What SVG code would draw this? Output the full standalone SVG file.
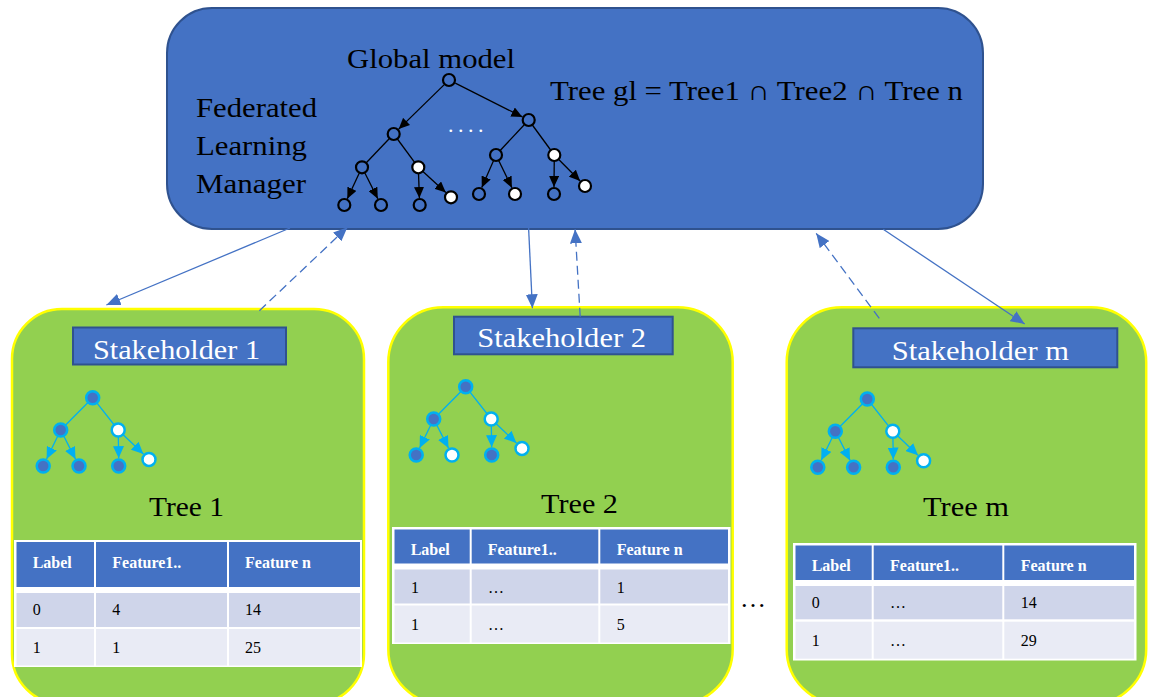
<svg xmlns="http://www.w3.org/2000/svg" width="1149" height="697" viewBox="0 0 1149 697">
  <style>
    .serif { font-family: "Liberation Serif", "Times New Roman", "DejaVu Serif", serif; }
    .manager { fill: #4472C4; stroke: #2F528F; stroke-width: 2; }
    .stake { fill: #92D050; stroke: #FFFF00; stroke-width: 2.5; }
    .tag { fill: #4472C4; stroke: #2F528F; stroke-width: 2; }
    .tagtxt { fill: #ffffff; font-size: 28px; }
    .big { fill: #000000; font-size: 28px; }
    .gedge { stroke: #000000; stroke-width: 1.3; fill: none; }
    .gnode { stroke: #000000; stroke-width: 2.2; }
    .sedge { stroke: #00B0F0; stroke-width: 1.3; fill: none; }
    .snode { stroke: #00B0F0; stroke-width: 2.5; }
    .fb { fill: #4472C4; }
    .fw { fill: #ffffff; }
    .tbg { fill: #ffffff; }
    .th { fill: #4472C4; }
    .r1 { fill: #CFD5EA; }
    .r2 { fill: #E9EBF5; }
    .hd { fill: #ffffff; font-size: 16px; font-weight: bold; }
    .cell { fill: #000000; font-size: 16px; }
    .link { stroke: #4472C4; stroke-width: 1.3; fill: none; }
    .dash { stroke-dasharray: 9 5; }
  </style>
  <defs>
    <marker id="ahBlack" markerUnits="userSpaceOnUse" markerWidth="11" markerHeight="10" refX="11" refY="5" orient="auto">
      <path d="M0,0 L11,5 L0,10 z" fill="#000000"/>
    </marker>
    <marker id="ahCyan" markerUnits="userSpaceOnUse" markerWidth="12" markerHeight="11" refX="12" refY="5.5" orient="auto">
      <path d="M0,0 L12,5.5 L0,11 z" fill="#00B0F0"/>
    </marker>
    <marker id="ahBlue" markerUnits="userSpaceOnUse" markerWidth="14" markerHeight="12" refX="14" refY="6" orient="auto">
      <path d="M0,0 L14,6 L0,12 z" fill="#4472C4"/>
    </marker>
  </defs>

  <!-- Federated learning manager -->
  <g id="manager">
    <rect class="manager" x="167" y="8" width="816" height="221" rx="45" ry="45"/>
    <text class="serif big" x="347" y="68" textLength="168" lengthAdjust="spacingAndGlyphs">Global model</text>
    <text class="serif big" x="196" y="117" textLength="121" lengthAdjust="spacingAndGlyphs">Federated</text>
    <text class="serif big" x="196" y="155" textLength="111" lengthAdjust="spacingAndGlyphs">Learning</text>
    <text class="serif big" x="196" y="193" textLength="110" lengthAdjust="spacingAndGlyphs">Manager</text>
    <text class="serif big" x="550" y="100" textLength="413" lengthAdjust="spacingAndGlyphs">Tree gl = Tree1 ∩ Tree2 ∩ Tree n</text>
    <text class="serif" x="448" y="132" fill="#ffffff" font-size="22" letter-spacing="4.5">....</text>
    <!-- global tree edges -->
    <g class="gedge">
      <line x1="444" y1="84.9" x2="398.7" y2="129.1" marker-end="url(#ahBlack)"/>
      <line x1="455.3" y1="83.1" x2="522.4" y2="116.9" marker-end="url(#ahBlack)"/>
      <line x1="393.7" y1="134" x2="362" y2="167.3"/>
      <line x1="393.7" y1="134" x2="418.3" y2="167.3"/>
      <line x1="528.7" y1="120" x2="496" y2="155"/>
      <line x1="528.7" y1="120" x2="554.3" y2="155"/>
      <line x1="362" y1="167.3" x2="347.3" y2="198.7" marker-end="url(#ahBlack)"/>
      <line x1="362" y1="167.3" x2="377.8" y2="198.7" marker-end="url(#ahBlack)"/>
      <line x1="418.3" y1="167.3" x2="419.4" y2="198" marker-end="url(#ahBlack)"/>
      <line x1="418.3" y1="167.3" x2="445.8" y2="192.6" marker-end="url(#ahBlack)"/>
      <line x1="496" y1="155" x2="481.8" y2="187.6" marker-end="url(#ahBlack)"/>
      <line x1="496" y1="155" x2="511.9" y2="187.7" marker-end="url(#ahBlack)"/>
      <line x1="554.3" y1="155" x2="554" y2="187" marker-end="url(#ahBlack)"/>
      <line x1="554.3" y1="155" x2="580.1" y2="181" marker-end="url(#ahBlack)"/>
    </g>
    <!-- global tree nodes -->
    <g class="gnode">
      <circle class="fb" cx="449" cy="80" r="6"/>
      <circle class="fb" cx="393.7" cy="134" r="6"/>
      <circle class="fb" cx="528.7" cy="120" r="6"/>
      <circle class="fb" cx="362" cy="167.3" r="6"/>
      <circle class="fw" cx="418.3" cy="167.3" r="6"/>
      <circle class="fb" cx="496" cy="155" r="6"/>
      <circle class="fw" cx="554.3" cy="155" r="6"/>
      <circle class="fb" cx="344.3" cy="205" r="6"/>
      <circle class="fb" cx="381" cy="205" r="6"/>
      <circle class="fb" cx="419.7" cy="205" r="6"/>
      <circle class="fw" cx="451" cy="197.3" r="6"/>
      <circle class="fb" cx="479" cy="194" r="6"/>
      <circle class="fw" cx="515" cy="194" r="6"/>
      <circle class="fb" cx="554" cy="194" r="6"/>
      <circle class="fw" cx="585" cy="186" r="6"/>
    </g>
  </g>

  <!-- Stakeholder 1 -->
  <g id="stakeholder-1">
    <rect class="stake" x="12" y="309" width="352" height="395" rx="50" ry="50"/>
    <rect class="tag" x="73" y="327.5" width="213" height="37"/>
    <text class="serif tagtxt" x="93" y="359" textLength="167" lengthAdjust="spacingAndGlyphs">Stakeholder 1</text>
    <g transform="translate(92.7,397.7)">
      <g class="sedge">
        <line x1="0" y1="0" x2="-32" y2="32.3"/>
        <line x1="0" y1="0" x2="25.5" y2="32.3"/>
        <line x1="-32" y1="32.3" x2="-46.1" y2="61.3" marker-end="url(#ahCyan)"/>
        <line x1="-32" y1="32.3" x2="-17.2" y2="61.4" marker-end="url(#ahCyan)"/>
        <line x1="25.5" y1="32.3" x2="26" y2="60.5" marker-end="url(#ahCyan)"/>
        <line x1="25.5" y1="32.3" x2="50.7" y2="56.3" marker-end="url(#ahCyan)"/>
      </g>
      <g class="snode">
        <circle class="fb" cx="0" cy="0" r="6.5"/>
        <circle class="fb" cx="-32" cy="32.3" r="6.5"/>
        <circle class="fw" cx="25.5" cy="32.3" r="6.5"/>
        <circle class="fb" cx="-49.5" cy="68.3" r="6.5"/>
        <circle class="fb" cx="-13.7" cy="68.3" r="6.5"/>
        <circle class="fb" cx="26" cy="68.3" r="6.5"/>
        <circle class="fw" cx="56.3" cy="61.7" r="6.5"/>
      </g>
    </g>
    <text class="serif big" x="149" y="516" textLength="75" lengthAdjust="spacingAndGlyphs">Tree 1</text>
    <rect class="tbg" x="14" y="540" width="348" height="127"/>
    <rect class="th" x="16.5" y="542" width="77.5" height="45"/>
    <rect class="th" x="96" y="542" width="131" height="45"/>
    <rect class="th" x="229" y="542" width="131" height="45"/>
    <rect class="r1" x="16.5" y="593" width="77.5" height="34"/>
    <rect class="r1" x="96" y="593" width="131" height="34"/>
    <rect class="r1" x="229" y="593" width="131" height="34"/>
    <rect class="r2" x="16.5" y="629" width="77.5" height="36.5"/>
    <rect class="r2" x="96" y="629" width="131" height="36.5"/>
    <rect class="r2" x="229" y="629" width="131" height="36.5"/>
    <text class="serif hd" x="32.7" y="568.3">Label</text>
    <text class="serif hd" x="112.3" y="568.3">Feature1..</text>
    <text class="serif hd" x="245" y="568.3">Feature n</text>
    <text class="serif cell" x="32.7" y="615">0</text>
    <text class="serif cell" x="112.3" y="615">4</text>
    <text class="serif cell" x="245" y="615">14</text>
    <text class="serif cell" x="32.7" y="652.7">1</text>
    <text class="serif cell" x="112.3" y="652.7">1</text>
    <text class="serif cell" x="245" y="652.7">25</text>
  </g>

  <!-- Stakeholder 2 -->
  <g id="stakeholder-2">
    <rect class="stake" x="388.3" y="307.3" width="344.4" height="397" rx="55" ry="55"/>
    <rect class="tag" x="454" y="316.7" width="218.7" height="37.6"/>
    <text class="serif tagtxt" x="477.3" y="347.3" textLength="168.7" lengthAdjust="spacingAndGlyphs">Stakeholder 2</text>
    <g transform="translate(465.7,386.7)">
      <g class="sedge">
        <line x1="0" y1="0" x2="-32" y2="32.3"/>
        <line x1="0" y1="0" x2="25.5" y2="32.3"/>
        <line x1="-32" y1="32.3" x2="-46.1" y2="61.3" marker-end="url(#ahCyan)"/>
        <line x1="-32" y1="32.3" x2="-17.2" y2="61.4" marker-end="url(#ahCyan)"/>
        <line x1="25.5" y1="32.3" x2="26" y2="60.5" marker-end="url(#ahCyan)"/>
        <line x1="25.5" y1="32.3" x2="50.7" y2="56.3" marker-end="url(#ahCyan)"/>
      </g>
      <g class="snode">
        <circle class="fb" cx="0" cy="0" r="6.5"/>
        <circle class="fb" cx="-32" cy="32.3" r="6.5"/>
        <circle class="fw" cx="25.5" cy="32.3" r="6.5"/>
        <circle class="fb" cx="-49.5" cy="68.3" r="6.5"/>
        <circle class="fw" cx="-13.7" cy="68.3" r="6.5"/>
        <circle class="fb" cx="26" cy="68.3" r="6.5"/>
        <circle class="fw" cx="56.3" cy="61.7" r="6.5"/>
      </g>
    </g>
    <text class="serif big" x="541" y="513" textLength="77" lengthAdjust="spacingAndGlyphs">Tree 2</text>
    <rect class="tbg" x="392" y="527" width="338.5" height="117"/>
    <rect class="th" x="394.5" y="529.5" width="75.2" height="34"/>
    <rect class="th" x="471.7" y="529.5" width="126.6" height="34"/>
    <rect class="th" x="600.3" y="529.5" width="127.7" height="34"/>
    <rect class="r1" x="394.5" y="569.5" width="75.2" height="34"/>
    <rect class="r1" x="471.7" y="569.5" width="126.6" height="34"/>
    <rect class="r1" x="600.3" y="569.5" width="127.7" height="34"/>
    <rect class="r2" x="394.5" y="605.5" width="75.2" height="37"/>
    <rect class="r2" x="471.7" y="605.5" width="126.6" height="37"/>
    <rect class="r2" x="600.3" y="605.5" width="127.7" height="37"/>
    <text class="serif hd" x="410.7" y="555">Label</text>
    <text class="serif hd" x="487.7" y="555">Feature1..</text>
    <text class="serif hd" x="616.7" y="555">Feature n</text>
    <text class="serif cell" x="411" y="592.7">1</text>
    <text class="serif cell" x="488" y="592.7">…</text>
    <text class="serif cell" x="616.7" y="592.7">1</text>
    <text class="serif cell" x="411" y="630">1</text>
    <text class="serif cell" x="488" y="630">…</text>
    <text class="serif cell" x="616.7" y="630">5</text>
  </g>

  <text class="serif" x="740" y="607" font-size="26" fill="#000000">…</text>

  <!-- Stakeholder m -->
  <g id="stakeholder-m">
    <rect class="stake" x="786.7" y="307.3" width="359.5" height="397" rx="55" ry="55"/>
    <rect class="tag" x="853.3" y="328.3" width="264" height="39"/>
    <text class="serif tagtxt" x="891.7" y="360" textLength="177.3" lengthAdjust="spacingAndGlyphs">Stakeholder m</text>
    <g transform="translate(867.3,399)">
      <g class="sedge">
        <line x1="0" y1="0" x2="-32" y2="32.3"/>
        <line x1="0" y1="0" x2="25.5" y2="32.3"/>
        <line x1="-32" y1="32.3" x2="-46.1" y2="61.3" marker-end="url(#ahCyan)"/>
        <line x1="-32" y1="32.3" x2="-17.2" y2="61.4" marker-end="url(#ahCyan)"/>
        <line x1="25.5" y1="32.3" x2="26" y2="60.5" marker-end="url(#ahCyan)"/>
        <line x1="25.5" y1="32.3" x2="50.7" y2="56.3" marker-end="url(#ahCyan)"/>
      </g>
      <g class="snode">
        <circle class="fb" cx="0" cy="0" r="6.5"/>
        <circle class="fb" cx="-32" cy="32.3" r="6.5"/>
        <circle class="fw" cx="25.5" cy="32.3" r="6.5"/>
        <circle class="fb" cx="-49.5" cy="68.3" r="6.5"/>
        <circle class="fb" cx="-13.7" cy="68.3" r="6.5"/>
        <circle class="fb" cx="26" cy="68.3" r="6.5"/>
        <circle class="fw" cx="56.3" cy="61.7" r="6.5"/>
      </g>
    </g>
    <text class="serif big" x="923" y="516" textLength="86" lengthAdjust="spacingAndGlyphs">Tree m</text>
    <rect class="tbg" x="793" y="543" width="343.5" height="117.5"/>
    <rect class="th" x="795.5" y="545.5" width="76.2" height="34.5"/>
    <rect class="th" x="873.7" y="545.5" width="128.6" height="34.5"/>
    <rect class="th" x="1004.3" y="545.5" width="129.7" height="34.5"/>
    <rect class="r1" x="795.5" y="586" width="76.2" height="33.3"/>
    <rect class="r1" x="873.7" y="586" width="128.6" height="33.3"/>
    <rect class="r1" x="1004.3" y="586" width="129.7" height="33.3"/>
    <rect class="r2" x="795.5" y="621.7" width="76.2" height="37"/>
    <rect class="r2" x="873.7" y="621.7" width="128.6" height="37"/>
    <rect class="r2" x="1004.3" y="621.7" width="129.7" height="37"/>
    <text class="serif hd" x="811.7" y="571">Label</text>
    <text class="serif hd" x="890" y="571">Feature1..</text>
    <text class="serif hd" x="1020.7" y="571">Feature n</text>
    <text class="serif cell" x="811.7" y="608.3">0</text>
    <text class="serif cell" x="890" y="608.3">…</text>
    <text class="serif cell" x="1020.7" y="608.3">14</text>
    <text class="serif cell" x="811.7" y="646">1</text>
    <text class="serif cell" x="890" y="646">…</text>
    <text class="serif cell" x="1020.7" y="646">29</text>
  </g>

  <!-- model exchange between manager and stakeholders -->
  <g id="connectors">
    <line class="link" x1="290" y1="228" x2="106.4" y2="305" marker-end="url(#ahBlue)"/>
    <line class="link dash" x1="259.4" y1="310.7" x2="347.4" y2="227.3" marker-end="url(#ahBlue)"/>
    <line class="link" x1="528.6" y1="228" x2="532.4" y2="308.3" marker-end="url(#ahBlue)"/>
    <line class="link dash" x1="580.2" y1="316.7" x2="575.1" y2="229.3" marker-end="url(#ahBlue)"/>
    <line class="link dash" x1="879.3" y1="318.3" x2="816.2" y2="233.3" marker-end="url(#ahBlue)"/>
    <line class="link" x1="883.2" y1="229.3" x2="1024.7" y2="324" marker-end="url(#ahBlue)"/>
  </g>
</svg>
